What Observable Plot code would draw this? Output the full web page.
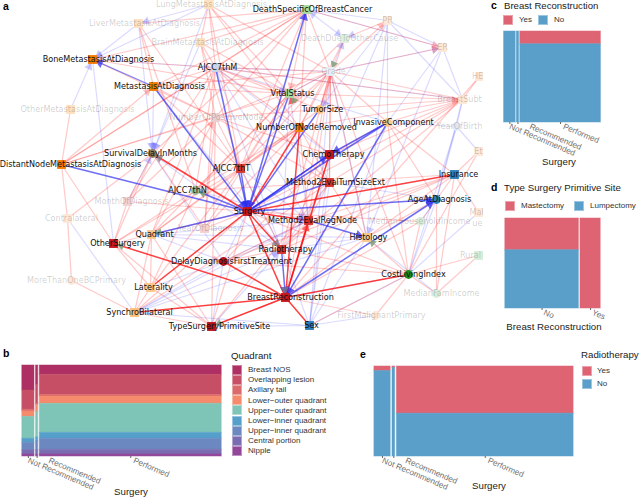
<!DOCTYPE html>
<html><head><meta charset="utf-8">
<script src="https://cdn.jsdelivr.net/npm/d3@7"></script>
<script src="https://cdn.jsdelivr.net/npm/@observablehq/plot@0.6"></script>
<style>
html,body{margin:0;padding:0;background:#fff}
#page{position:relative;width:640px;height:498px;overflow:hidden;font-family:"Liberation Sans",sans-serif}
#page svg{position:absolute;background:transparent}
.t{position:absolute;white-space:nowrap;line-height:1;transform:translateY(-50%)}
.s{position:absolute}
</style></head><body><div id="page"></div>
<script>
// ---------- network panel a ----------
const ids =   ["DSBC","BMD","MAD","M","SDM","DNM","VS","TS","NNR","IC","CT","T","N","Q","OS","DDF","LAT","SB","TSP","SUR","M2T","M2R","HIS","RT","BR","SEX","CLI","AGE","INS","LUNG","LIV","BRA","OTH","NPN","GR","DOC","PR","ER","HER","BST","YOB","ETH","MAR","MHI","RUR","MFI","FMP","MOD","CL","MBC","YOD","UE"];
const labels = ["DeathSpecificOfBreastCancer","BoneMetastasisAtDiagnosis","MetastasisAtDiagnosis","AJCC7thM","SurvivalDelayInMonths","DistantNodeMetastasisAtDiagnosis","VitalStatus","TumorSize","NumberOfNodeRemoved","InvasiveComponent","ChemoTherapy","AJCC7thT","AJCC7thN","Quadrant","OtherSurgery","DelayDiagnosisFirstTreatment","Laterality","SynchroBilateral","TypeSurgeryPrimitiveSite","Surgery","Method2EvalTumSizeExt","Method2EvalRegNode","Histology","Radiotherapy","BreastReconstruction","Sex","CostLivingIndex","AgeAtDiagnosis","Insurance","LungMetastasisAtDiagnosis","LiverMetastasisAtDiagnosis","BrainMetastasisAtDiagnosis","OtherMetastasisAtDiagnosis","NumberOfPositiveNode","Grade","DeathDueToOtherCause","PR","ER","HE","BreastSubt","YearOfBirth","Et","Mal","MedianHouseholdIncome","Rural","MedianFamIncome","FirstMalignantPrimary","MonthOfDiagnosis","Contralateral","MoreThanOneBCPrimary","YearOfDiagnosis","ue"];
const nodeX = [306,92,153,215,152,61,289,319,299,387,329,240,195,151,113,223,150,134,211,247,329,308,366,281,285,309,408,436,454,208,138,200,70,215,330,344,387,442,479,462,456,478,478,420,478,436,375,127,67,71,204,490];
const nodeY = [9,59,86,67,153,164,93,109,127,122,154,168,190,234,243,261,287,312,326,211,182,220,237,249,297,325,274,199,174,4,23,42,109,117,71,38,20,47,76,99,126,151,212,221,255,293,315,201,218,280,228,223];
const labelX = [312,98,159,217,150,70,292,322,306,393,333,231,187,154,117,231,153,139,219,249,335,312,368,285,290,311,413,439,458,211,144,207,77,216,333,349,387,442,477,459,459,478,476,419,470,441,381,131,71,76,210,477];
const nodeColor = ["#a8dba0","#f57c00","#f57c00","#c9d6e8","#8a7a5a","#f57c00","#a8dba0","#fbbf7a","#f08a00","#fbc88a","#c4161c","#d7372f","#9ab890","#f8c890","#c4161c","#b5121b","#fbc88a","#fbbf7a","#b5121b","#c4161c","#d7302a","#d7302a","#fbc88a","#d7302a","#c4161c","#2b7db8","#1a8a1a","#2b7db8","#2b7db8","#fde0c0","#fde0c0","#fde0c0","#fde0c0","#e8d0d0","#e8eef5","#e0efe0","#fde8d8","#fde8d8","#fde8d8","#fde8d8","#e0e8f5","#fde8d8","#fde8d8","#d8ecd8","#d8ecd8","#d8ecd8","#fde8d8","#f5d0d0","#fde8d8","#fde8d8","#f5d0d0","#ffffff"];
const nodeShape = ["square","square","square","square","circle","square","square","circle","square","circle","square","square","circle","square","square","circle","square","square","square","square","square","square","square","square","square","square","circle","circle","square","square","square","square","square","square","square","square","square","square","square","square","circle","square","square","circle","square","circle","circle","square","square","circle","square","square"];
const fadedFrom = 29;

const strongRed = ["NNR-SUR","SDM-SUR","INS-SUR","LAT-SUR","SUR-RT","SUR-BR","NNR-BR","CT-BR","OS-BR","SB-BR","TSP-BR","DDF-BR","CLI-BR","BR-SEX","BR-M2R","SUR-M2R"];
const strongBlue = ["MAD-SUR","DNM-SUR","M-SUR","T-SUR","N-SUR","SUR-Q","SUR-DSBC","TS-SUR","CT-SUR","SUR-CT","IC-SUR","IC-CT","IC-BR","M2T-SUR","SUR-AGE","BR-AGE","M2R-HIS","RT-BR","VS-SUR"];
const mediumBlue = ["MAD-BMD"];
const faintRed = ["DSBC-LIV","DSBC-BRA","DSBC-MAD","DSBC-BMD","DSBC-M","DSBC-NPN","DSBC-SDM","DSBC-T","DSBC-VS","DSBC-NNR","DSBC-ER","DSBC-DNM","DSBC-GR","LUNG-M","LUNG-NNR","LUNG-BRA","LUNG-GR","LUNG-VS","LUNG-T","LIV-MAD","LIV-T","LIV-N","BRA-M","BRA-NPN","BRA-VS","BRA-T","BMD-NPN","BMD-M","BMD-VS","OTH-DNM","DNM-MAD","DNM-M","DNM-NPN","DNM-VS","DNM-OS","DNM-CL","CL-SDM","CL-MBC","MBC-SB","OS-MOD","OS-Q","OS-LAT","OS-SDM","OS-TSP","OS-N","OS-T","SB-Q","SB-LAT","SB-TSP","SB-SUR","SB-M2T","TSP-LAT","TSP-Q","TSP-M2T","TSP-SUR","TSP-NPN","LAT-N","LAT-Q","LAT-T","Q-M","Q-NPN","Q-VS","Q-NNR","Q-SUR","Q-T","MOD-SUR","MOD-NPN","MOD-SDM","MOD-M","YOD-SUR","YOD-NPN","YOD-SDM","YOD-M","YOD-VS","YOD-NNR","N-M","N-VS","N-NNR","N-GR","N-M2T","T-GR","T-VS","T-NNR","T-TS","M-GR","M-VS","M-NNR","M-M2T","M-TS","M-BST","MAD-M","MAD-NPN","MAD-VS","MAD-T","MAD-GR","VS-BST","VS-GR","VS-DOC","TS-BST","TS-GR","TS-DOC","NNR-BST","NNR-GR","NNR-DOC","NNR-CT","NNR-M2T","NNR-M2R","CT-BST","CT-GR","CT-M2T","CT-M2R","CT-RT","CT-IC","M2T-BST","M2T-GR","M2T-INS","M2T-M2R","M2T-HIS","M2R-GR","M2R-RT","M2R-INS","RT-GR","RT-INS","RT-CLI","RT-BST","HIS-CLI","HIS-INS","HIS-GR","HIS-AGE","BR-GR","BR-HIS","BR-FMP","BR-HER","BR-MHI","DDF-M2R","DDF-RT","DDF-CT","DDF-INS","DDF-CLI","SUR-CLI","SUR-MHI","SUR-BST","IC-GR","IC-CLI","IC-AGE","IC-BST","IC-INS","GR-CLI","GR-ER","GR-PR","PR-DOC","HER-BST","BST-GR","ETH-INS","ETH-CLI","MAR-INS","RUR-CLI","RUR-MFI","MHI-CLI","MHI-INS","MFI-CLI","MFI-INS","FMP-CLI","AGE-MFI","SEX-CLI","TSP-BR","NPN-M2T","NPN-CT","NPN-TS","NPN-GR","NPN-RT"];
const faintBlue = ["LUNG-LIV","LUNG-BMD","LIV-BMD","OTH-BMD","BMD-OS","BMD-MAD","LIV-SDM","LUNG-SDM","BRA-SDM","BMD-M","MAD-SDM","CL-SB","MOD-SDM","DOC-DSBC","DOC-GR","DSBC-PR","DSBC-ER","GR-ER","GR-VS","GR-M","PR-ER","PR-BST","PR-IC","PR-HIS","PR-TS","PR-CT","ER-BST","ER-IC","ER-HIS","BST-YOB","YOB-IC","YOB-ETH","YOB-AGE","YOB-CLI","MAR-CLI","AGE-CLI","AGE-MHI","SEX-CLI","SEX-M2T","SEX-HIS","SEX-IC","SEX-FMP","SEX-SB","SEX-CT","HIS-MFI","GR-HIS","GR-SEX","SUR-M2R","DDF-SUR","DDF-Q","DDF-SB","DDF-LAT","DDF-TSP","DDF-M2R","SB-M2R","SB-RT","SB-HIS","TSP-RT","TSP-SEX","Q-HIS","Q-RT","Q-M2R","N-M2R","T-M2R","T-RT","M-RT","M-M2R","M-CT","MAD-RT","SDM-RT","SDM-DDF","VS-RT","VS-M2R","BST-M","IC-M","AGE-BST","AGE-M2T","CLI-BR","RT-HIS","RT-SEX","M2T-RT"];
const blueHeads = ["LUNG-LIV","LUNG-BMD","LIV-BMD","OTH-BMD","LIV-SDM","LUNG-SDM","BRA-SDM","MAD-SDM","MOD-SDM","DOC-DSBC","DSBC-DOC","GR-ER","GR-DOC","PR-TS","PR-DOC","ER-HIS","M-VS","N-M2R","T-M2R","TSP-RT","Q-M2R","SB-RT"];
const redHeads = ["TS-BST","GR-ER","DSBC-ER","GR-PR","TS-VS","DSBC-VS","Q-NPN","DNM-MAD","OS-DDF"];
const strongRedHeads = ["BR-M2R","NNR-VS"];
const strongBlueHeads = ["SUR-DSBC","SUR-CT","IC-CT","BR-AGE","SUR-AGE","M2R-HIS","RT-BR","IC-BR","MAD-BMD","M-SUR","T-SUR","MAD-SUR","VS-SUR"];
const greenHeads = ["SUR-N","BR-OS","BR-TSP","SUR-Q","DOC-GR","CT-VS","CLI-HIS"];
const grayHeads = ["SUR-RT","RT-BR","SUR-SDM"];

const idx = new Map(ids.map((d,i)=>[d,i]));
function edgeRows(list){
  return list.map(s=>{
    const [a,b]=s.split("-"), i=idx.get(a), j=idx.get(b);
    const dx=nodeX[j]-nodeX[i], dy=nodeY[j]-nodeY[i], L=Math.hypot(dx,dy);
    return {x1:nodeX[i],y1:nodeY[i],x2:nodeX[j],y2:nodeY[j],
      hx:nodeX[j]-dx/L*8,hy:nodeY[j]-dy/L*8,rot:Math.atan2(dx,-dy)*180/Math.PI};
  });
}
const nodes = ids.map((d,i)=>({label:labels[i],x:nodeX[i],y:nodeY[i],lx:labelX[i],color:nodeColor[i],shape:nodeShape[i],faded:i>=fadedFrom}));
const heads=(list,color,op,r)=>Plot.dot(edgeRows(list),{x:"hx",y:"hy",rotate:"rot",symbol:"triangle",r:r,fill:color,fillOpacity:op,stroke:"none"});
const lines=(list,color,op,sw)=>Plot.link(edgeRows(list),{x1:"x1",y1:"y1",x2:"x2",y2:"y2",stroke:color,strokeOpacity:op,strokeWidth:sw});

const network = Plot.plot({
  width:483,height:340,margin:0,
  x:{domain:[0,483],axis:null},y:{domain:[340,0],axis:null},
  style:{position:"absolute",left:"0",top:"0",fontFamily:"DejaVu Sans"},
  marks:[
    lines(faintBlue,"#3a3aff",0.18,1.2),
    lines(faintRed,"#ff2020",0.24,1.25),
    lines(mediumBlue,"#2a2af0",0.5,1.3),
    lines(strongBlue,"#2a2af0",0.68,1.5),
    lines(strongRed,"#ff0a0a",0.78,1.5),
    heads(blueHeads,"#5a5aff",0.3,3.2),
    heads(redHeads,"#ff4040",0.3,3.2),
    heads(strongRedHeads,"#ff3030",0.75,3.2),
    heads(strongBlueHeads,"#2a2af0",0.7,3.4),
    heads(greenHeads,"#7c9f78",0.85,2.9),
    heads(grayHeads,"#7a7a80",0.75,3.2),
    Plot.dot(nodes.filter(d=>d.shape==="square"&&d.label!=="ue"),{x:"x",y:"y",symbol:"square",r:5,fill:"color",stroke:"none"}),
    Plot.dot(nodes.filter(d=>d.shape==="circle"),{x:"x",y:"y",r:4.4,fill:"color",stroke:"none"}),
    Plot.text(nodes.filter(d=>d.faded),{x:"lx",y:"y",text:"label",fontSize:8.1,fill:"#000",fillOpacity:0.2,fontFamily:"DejaVu Sans"}),
    Plot.text(nodes.filter(d=>!d.faded),{x:"lx",y:"y",text:"label",fontSize:8.1,fill:"#111",fontFamily:"DejaVu Sans"})
  ]
});
const page=document.getElementById("page");
page.appendChild(network);

// ---------- mosaic panels ----------
const surgeryCols = ["Not Recommended","Recommended","Performed"];
const surgeryLabelShift = [0,12,3];
const quadrants = ["Breast NOS","Overlapping lesion","Axillary tail","Lower−outer quadrant","Upper−outer quadrant","Lower−inner quadrant","Upper−inner quadrant","Central portion","Nipple"];
const quadColors = ["#AE2F64","#C64F66","#DB6A6B","#F58B6C","#7EC5B7","#559FCB","#6C88C0","#7A6CB0","#93479B"];
const quadWidths = [0.0685,0.0185,0.913];
const quadNotRec = [0.275,0.21,0.02,0.06,0.24,0.045,0.08,0.048,0.022];
const quadRec =    [0.21,0.212,0.012,0.077,0.278,0.04,0.106,0.048,0.017];
const quadPerf =   [0.103,0.22,0.018,0.08,0.319,0.066,0.121,0.051,0.022];

const red="#DE6473", blue="#5A9FCA";
const reconWidths=[0.13,0.035,0.835];
const reconYes=[0,0,0.14];
const reconLevels=["No","Yes"];
const reconLabelShift=[2,2];
const typeWidths=[0.775,0.225];
const typeMast=[0.352,1];
const radioWidths=[0.09,0.022,0.888];
const radioYes=[0.05,0.015,0.524];

function mosaic(left,top,w,h,cols,widths,shares,colors,gapPx,shift){
  const rects=[],ticks=[];let c=0;
  widths.forEach((wd,i)=>{
    let s=0;
    shares[i].forEach((v,k)=>{ if(v>0) rects.push({x1:c,x2:c+wd,y1:s,y2:s+v,color:colors[k]}); s+=v; });
    ticks.push(c+wd/2); c+=wd;
  });
  const p=Plot.plot({
    width:w+80,height:h+34,marginLeft:0,marginTop:0,marginRight:80,marginBottom:34,
    x:{domain:[0,1],axis:null},y:{domain:[1,0],axis:null},
    style:{position:"absolute",left:left+"px",top:top+"px",fontFamily:"Liberation Sans",overflow:"visible"},
    marks:[
      Plot.rect(rects,{x1:"x1",x2:"x2",y1:"y1",y2:"y2",fill:"color",stroke:"color",strokeOpacity:0.5,strokeWidth:1,insetLeft:gapPx,insetRight:gapPx}),
      Plot.axisX({ticks:ticks,tickFormat:()=>"",tickSize:2,tickPadding:0,anchor:"bottom",label:null,stroke:"#666"}),
      ...ticks.map((t,i)=>Plot.text([cols[i]],{x:[t],y:[1],text:[cols[i]],dx:shift[i],dy:3.5,rotate:23,textAnchor:"start",lineAnchor:"middle",fontSize:8.2,fill:"#707070",fontFamily:"Liberation Sans"}))
    ]
  });
  page.appendChild(p);
}
const stacked=(ys)=>ys.map(v=>[v,1-v]);
mosaic(21,365,201,91,surgeryCols,quadWidths,[quadNotRec,quadRec,quadPerf],quadColors,0.8,surgeryLabelShift);
mosaic(503,31,98,91,surgeryCols,reconWidths,stacked(reconYes),[red,blue],0.6,surgeryLabelShift);
mosaic(504,218,97,90,reconLevels,typeWidths,stacked(typeMast),[red,blue],0.8,reconLabelShift);
mosaic(373,366,201,90,surgeryCols,radioWidths,stacked(radioYes),[red,blue],0.9,surgeryLabelShift);

// ---------- titles, axis labels and legends ----------
function put(text,x,y,size,opts={}){
  const d=document.createElement("div");d.className="t";d.textContent=text;
  d.style.left=x+"px";d.style.top=y+"px";d.style.fontSize=size+"px";d.style.color=opts.color||"#222";
  if(opts.bold)d.style.fontWeight="bold";
  if(opts.center)d.style.transform="translate(-50%,-50%)";
  page.appendChild(d);
}
function swatch(x,y,w,h,c){
  const d=document.createElement("div");d.className="s";
  d.style.cssText=`left:${x}px;top:${y}px;width:${w}px;height:${h}px;background:${c};box-sizing:border-box;border:1px solid ${c}99;background-clip:padding-box`;
  page.appendChild(d);
}
const panelLetters=[["a",3,6],["b",3,353],["c",491,5],["d",491,187],["e",360,354]];
panelLetters.forEach(([t,x,y])=>put(t,x,y,10.5,{bold:true,color:"#000"}));

put("Quadrant",231,356,9.7);
quadrants.forEach((q,i)=>{swatch(232,365+i*10.1,10,10.1,quadColors[i]);put(q,248,370.2+i*10.1,8,{color:"#333"});});
put("Surgery",131,492,9.7,{center:true});

put("Breast Reconstruction",504,5.5,9.6);
swatch(503,15,10,10,red);put("Yes",519,20,8,{color:"#333"});
swatch(538,15,10,10,blue);put("No",554,20,8,{color:"#333"});
put("Surgery",559,162,9.7,{center:true});

put("Type Surgery Primitive Site",504,188,9.7);
swatch(505,201,10,10,red);put("Mastectomy",521,206,8,{color:"#333"});
swatch(574,201,10,10,blue);put("Lumpectomy",590,206,8,{color:"#333"});
put("Breast Reconstruction",554,327,9.7,{center:true});

put("Radiotherapy",581,355,9.7);
swatch(582,366,10,10,red);put("Yes",597,371,8,{color:"#333"});
swatch(582,379,10,10,blue);put("No",597,384,8,{color:"#333"});
put("Surgery",489,486,9.7,{center:true});
</script></body></html>
